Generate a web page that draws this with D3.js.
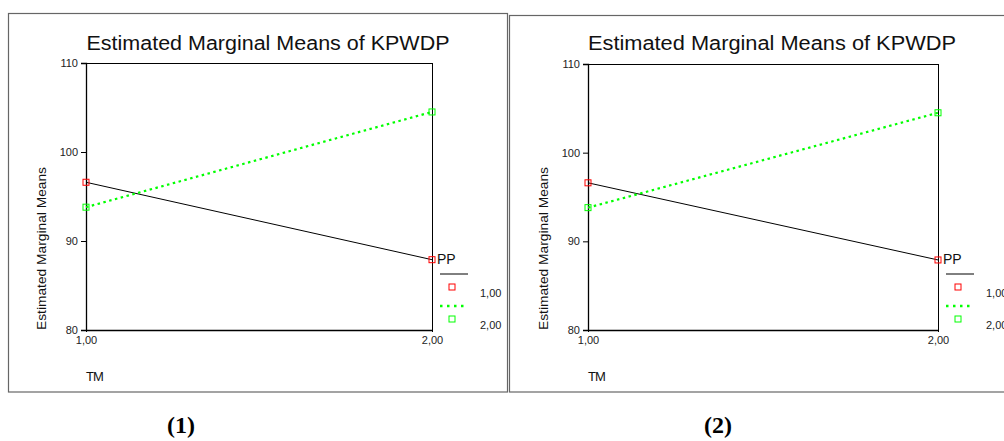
<!DOCTYPE html>
<html>
<head>
<meta charset="utf-8">
<script src="https://cdn.jsdelivr.net/npm/d3@7"></script>
<style>
html,body{margin:0;padding:0;background:#fff;}
svg{display:block;}
</style>
</head>
<body>
<svg id="c" width="1004" height="441"></svg>
<script>
// ---- data ----
const tmLevels = ["1,00", "2,00"];
const ppLevels = ["1,00", "2,00"];
const pp1Means = [96.6, 87.9];
const pp2Means = [93.8, 104.5];
const yTicks = [80, 90, 100, 110];
const panelLabels = ["(1)", "(2)"];
const chartTitle = "Estimated Marginal Means of KPWDP";
const yTitle = "Estimated Marginal Means";
const xTitle = "TM";
const legendTitle = "PP";

const SANS = "'Liberation Sans', Arial, sans-serif";
const SERIF = "'Liberation Serif', 'Times New Roman', serif";

const series = [
  {name: ppLevels[0], values: pp1Means, line: "#000", dash: null, width: 1, marker: "#ff0000"},
  {name: ppLevels[1], values: pp2Means, line: "#00ff00", dash: "2.5,3.5", width: 2.2, marker: "#00ff00"}
];

const svg = d3.select("#c");

const panels = [
  {box: {x: 8.5, y: 13.5, w: 499, h: 378.5}, plot: {l: 86, r: 432, t: 63, b: 330}, titleX: 268, labelX: 181},
  {box: {x: 509.5, y: 15.5, w: 520, h: 376.5}, plot: {l: 588, r: 938, t: 64, b: 330}, titleX: 772, labelX: 718}
];

panels.forEach((p, pi) => {
  const g = svg.append("g");
  g.append("rect").attr("x", p.box.x).attr("y", p.box.y).attr("width", p.box.w).attr("height", p.box.h)
    .attr("fill", "none").attr("stroke", "#666").attr("stroke-width", 1.2);

  const x = d3.scalePoint().domain(tmLevels).range([p.plot.l, p.plot.r]);
  const y = d3.scaleLinear().domain([80, 110]).range([p.plot.b, p.plot.t]);

  g.append("text").attr("x", p.titleX).attr("y", 50).attr("text-anchor", "middle")
    .style("font-family", SANS).style("font-size", "20px").attr("fill", "#111")
    .attr("textLength", pi === 0 ? 363 : 368).attr("lengthAdjust", "spacingAndGlyphs")
    .text(chartTitle);

  g.append("line").attr("x1", p.plot.l).attr("x2", p.plot.r).attr("y1", p.plot.t + 0.5).attr("y2", p.plot.t + 0.5)
    .attr("stroke", "#000").attr("stroke-width", 1);
  g.append("line").attr("x1", p.plot.r + 0.5).attr("x2", p.plot.r + 0.5).attr("y1", p.plot.t).attr("y2", p.plot.b)
    .attr("stroke", "#000").attr("stroke-width", 1);

  const ya = g.append("g").attr("transform", `translate(${p.plot.l},0)`)
    .call(d3.axisLeft(y).tickValues(yTicks).tickSize(5).tickPadding(3).tickFormat(d3.format("d")));
  ya.select(".domain").attr("stroke-width", 1.3);
  ya.selectAll("text").style("font-family", SANS).style("font-size", "11px").attr("fill", "#222");

  const xa = g.append("g").attr("transform", `translate(0,${p.plot.b})`)
    .call(d3.axisBottom(x).tickSize(2).tickPadding(4).tickSizeOuter(0));
  xa.select(".domain").attr("stroke-width", 1.6);
  xa.selectAll("text").style("font-family", SANS).style("font-size", "11px").attr("fill", "#222");

  g.append("text").attr("transform", `translate(${p.plot.l - 40},330) rotate(-90)`)
    .style("font-family", SANS).style("font-size", "12px").attr("fill", "#111")
    .attr("textLength", 163).attr("lengthAdjust", "spacingAndGlyphs")
    .text(yTitle);
  g.append("text").attr("x", p.plot.l).attr("y", 381)
    .style("font-family", SANS).style("font-size", "13px").style("letter-spacing", "-1px").attr("fill", "#111")
    .text(xTitle);

  const line = d3.line().x((d, i) => x(tmLevels[i])).y(d => y(d));
  series.forEach(s => {
    g.append("path").datum(s.values).attr("d", line).attr("fill", "none")
      .attr("stroke", s.line).attr("stroke-width", s.width)
      .attr("stroke-dasharray", s.dash);
  });
  series.forEach(s => {
    g.selectAll(null).data(s.values).enter().append("rect")
      .attr("x", (d, i) => x(tmLevels[i]) - 3).attr("y", d => y(d) - 3)
      .attr("width", 6).attr("height", 6).attr("fill", "none")
      .attr("stroke", s.marker).attr("stroke-width", 1);
  });

  const lx = p.plot.r + 5;
  g.append("text").attr("x", lx).attr("y", 264)
    .style("font-family", SANS).style("font-size", "14px").attr("fill", "#111").text(legendTitle);
  series.forEach((s, i) => {
    const ly = 274 + i * 32;
    g.append("line").attr("x1", lx + 3).attr("x2", lx + (s.dash ? 30 : 31)).attr("y1", ly).attr("y2", ly)
      .attr("stroke", s.line).attr("stroke-width", s.dash ? 2.5 : 1).attr("stroke-dasharray", s.dash ? "2.5,4.5" : null);
    g.append("rect").attr("x", lx + 12).attr("y", ly + 10).attr("width", 6).attr("height", 6)
      .attr("fill", "none").attr("stroke", s.marker).attr("stroke-width", 1);
    g.append("text").attr("x", lx + 43).attr("y", ly + 23)
      .style("font-family", SANS).style("font-size", "11px").attr("fill", "#222").text(s.name);
  });

  svg.append("text").attr("x", p.labelX).attr("y", 433).attr("text-anchor", "middle")
    .style("font-family", SERIF).style("font-weight", "bold").style("font-size", "24px")
    .attr("fill", "#000").text(panelLabels[pi]);
});
</script>
</body>
</html>
